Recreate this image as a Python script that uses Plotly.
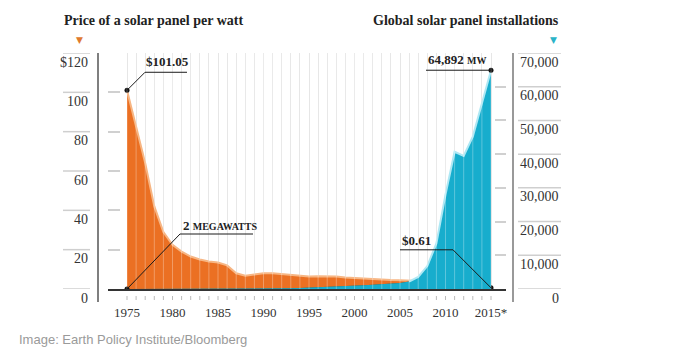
import plotly.graph_objects as go

# ---------------- data ----------------
years = list(range(1975, 2016))
price = [101.05, 82.0, 64.0, 42.0, 29.0, 22.5, 19.0, 16.5, 15.0, 14.0,
         13.5, 12.0, 8.0, 6.8, 7.3, 8.0, 8.0, 7.6, 7.2, 6.8,
         6.3, 6.5, 6.6, 6.4, 5.8, 5.5, 5.3, 5.0, 4.8, 4.6,
         4.5, 4.4, 4.1, 3.2, 2.3, 1.6, 1.2, 0.9, 0.75, 0.66, 0.61]
installs = [2, 3, 5, 8, 10, 15, 20, 25, 30, 40,
            50, 60, 70, 80, 90, 100, 120, 150, 200, 260,
            350, 450, 600, 700, 800, 950, 1100, 1250, 1400, 1550,
            1750, 2200, 3600, 6800, 13500, 28000, 40700, 39500, 45200, 55000, 64892]
x_label_years = [1975, 1980, 1985, 1990, 1995, 2000, 2005, 2010, 2015]
x_label_text = ["1975", "1980", "1985", "1990", "1995", "2000", "2005", "2010", "2015*"]
left_ticks = [0, 20, 40, 60, 80, 100, 120]
left_text = ["0", "20", "40", "60", "80", "100", "$120"]
right_ticks = [0, 10000, 20000, 30000, 40000, 50000, 60000, 70000]
right_text = ["0", "10,000", "20,000", "30,000", "40,000", "50,000", "60,000", "70,000"]
PRICE_MAX = 120
INST_MAX = 70000

# ---------------- styling ----------------
W, H = 678, 351
ML, MR, MT, MB = 108, 172, 53, 62
PW, PH = W - ML - MR, H - MT - MB
def px(xp):
    return (xp - ML) / PW
def py(yp):
    return (H - MB - yp) / PH

ORANGE = "#EB7023"
ORANGE_EDGE = "#F7B684"
TEAL = "#17ADCD"
TEAL_EDGE = "#AEE8F4"
DARK = "#544E30"
SERIF = "Liberation Serif"
SANS = "Liberation Sans"

inst_scaled = [v * PRICE_MAX / INST_MAX for v in installs]
overlap = [min(a, b) for a, b in zip(price, inst_scaled)]

fig = go.Figure()
fig.add_trace(go.Scatter(x=years, y=price, mode="lines", fill="tozeroy",
                         fillcolor=ORANGE, line=dict(color=ORANGE_EDGE, width=2),
                         hoverinfo="skip", showlegend=False))
fig.add_trace(go.Scatter(x=years, y=installs, yaxis="y2", mode="lines", fill="tozeroy",
                         fillcolor=TEAL, line=dict(width=0), hoverinfo="skip", showlegend=False))
k = years.index(2006)
fig.add_trace(go.Scatter(x=years[k:], y=installs[k:], yaxis="y2", mode="lines",
                         line=dict(color=TEAL_EDGE, width=2), hoverinfo="skip", showlegend=False))
fig.add_trace(go.Scatter(x=years, y=overlap, mode="lines", fill="tozeroy",
                         fillcolor=DARK, line=dict(width=0), hoverinfo="skip", showlegend=False))
# endpoint dots
fig.add_trace(go.Scatter(x=[years[0], years[-1]], y=[price[0], price[-1]], mode="markers",
                         marker=dict(color="#111", size=5), hoverinfo="skip", showlegend=False))
fig.add_trace(go.Scatter(x=[years[0], years[-1]], y=[installs[0], installs[-1]], yaxis="y2",
                         mode="markers", marker=dict(color="#111", size=5),
                         hoverinfo="skip", showlegend=False))

x_ticktext = [x_label_text[x_label_years.index(y)] if y in x_label_years else "" for y in years]

fig.update_layout(
    width=W, height=H, margin=dict(l=ML, r=MR, t=MT, b=MB),
    paper_bgcolor="white", plot_bgcolor="white",
    xaxis=dict(range=[1975 - 19 / 9.1, 2015 + 15 / 9.1], tickvals=years, ticktext=x_ticktext,
               showgrid=True, gridcolor="#e2e2e2", gridwidth=1, zeroline=False,
               showline=True, linecolor="#333", linewidth=2, ticks="",
               tickfont=dict(family=SERIF, size=13, color="#333"), ticklabelstandoff=10),
    yaxis=dict(range=[0, PRICE_MAX], tickvals=left_ticks, showticklabels=False,
               showgrid=False, zeroline=False, ticks="inside", ticklen=12,
               tickcolor="#d0d0d0", tickwidth=1.5, showline=False),
    yaxis2=dict(range=[0, INST_MAX], overlaying="y", side="right", tickvals=right_ticks,
                showticklabels=False, showgrid=False, zeroline=False, ticks="inside",
                ticklen=11, tickcolor="#d0d0d0", tickwidth=1.5, showline=False),
)

shapes = []
# year tick marks below baseline
for y in years:
    shapes.append(dict(type="line", xref="x", yref="paper", x0=y, x1=y,
                       y0=-7 / PH, y1=-11 / PH, line=dict(color="#bbbbbb", width=1)))
# light stripes over the filled areas
for y in years:
    shapes.append(dict(type="line", xref="x", yref="paper", x0=y, x1=y, y0=0, y1=1,
                       layer="above", line=dict(color="rgba(255,255,255,0.3)", width=1)))
# axis lines outside plot
shapes.append(dict(type="line", xref="paper", yref="paper", x0=px(98), x1=px(98),
                   y0=1, y1=py(302), line=dict(color="#555", width=1.5)))
shapes.append(dict(type="line", xref="paper", yref="paper", x0=px(513), x1=px(513),
                   y0=1, y1=py(302), line=dict(color="#777", width=1.5)))
# outer short gridlines
for v in left_ticks:
    shapes.append(dict(type="line", xref="paper", yref="y", x0=px(63), x1=px(90), y0=v, y1=v,
                       line=dict(color="#cfcfcf", width=1.5)))
for v in right_ticks:
    shapes.append(dict(type="line", xref="paper", yref="y2", x0=px(518), x1=px(561), y0=v, y1=v,
                       line=dict(color="#cfcfcf", width=1.5)))

def leader(xa, ya, yref, path):
    return dict(type="path", xref="x", yref=yref, xsizemode="pixel", ysizemode="pixel",
                xanchor=xa, yanchor=ya, path=path, layer="above",
                line=dict(color="#1a1a1a", width=1))

shapes.append(leader(years[0], price[0], "y", "M0,0 L18,18 L60,18"))
shapes.append(leader(years[0], 0, "y", "M0,0 L53,55 L126,55"))
shapes.append(leader(years[-1], installs[-1], "y2", "M0,0 L-65,0"))
shapes.append(leader(years[-1], price[-1], "y", "M0,0 L-38,38 L-91,38"))
fig.update_layout(shapes=shapes)

ann = []
for v, t in zip(left_ticks, left_text):
    ann.append(dict(xref="paper", yref="y", x=0, y=v, xshift=-18, yshift=-9, text=t,
                    xanchor="right", yanchor="middle", showarrow=False,
                    font=dict(family=SERIF, size=14, color="#333")))
for v, t in zip(right_ticks, right_text):
    ann.append(dict(xref="paper", yref="y2", x=1, y=v, xshift=55, yshift=-9, text=t,
                    xanchor="right", yanchor="middle", showarrow=False,
                    font=dict(family=SERIF, size=14, color="#333")))

bold = dict(family=SERIF, size=13, color="#222")
ann.append(dict(xref="x", yref="y", x=years[0], y=price[0], xshift=40, yshift=29,
                text=f"<b>${price[0]:.2f}</b>", showarrow=False, font=bold))
ann.append(dict(xref="x", yref="y", x=years[0], y=0, xshift=54, yshift=64, xanchor="left",
                text=f"<b>{installs[0]} <span style='font-size:10px'>MEGAWATTS</span></b>",
                showarrow=False, font=bold))
ann.append(dict(xref="x", yref="y2", x=years[-1], y=installs[-1], xshift=-65, yshift=11,
                xanchor="left",
                text=f"<b>{installs[-1]:,} <span style='font-size:10px'>MW</span></b>",
                showarrow=False, font=bold))
ann.append(dict(xref="x", yref="y", x=years[-1], y=price[-1], xshift=-91, yshift=47,
                xanchor="left", text=f"<b>${price[-1]:.2f}</b>", showarrow=False, font=bold))

ann.append(dict(xref="paper", yref="paper", x=px(62), y=py(21), xanchor="left", yanchor="middle",
                text="<b>Price of a solar panel per watt</b>", showarrow=False,
                font=dict(family=SERIF, size=14, color="#222")))
ann.append(dict(xref="paper", yref="paper", x=px(561), y=py(21), xanchor="right", yanchor="middle",
                text="<b>Global solar panel installations</b>", showarrow=False,
                font=dict(family=SERIF, size=14, color="#222")))
ann.append(dict(xref="paper", yref="paper", x=px(79), y=py(40), xanchor="center", yanchor="middle",
                text="▼", showarrow=False, font=dict(family="DejaVu Sans", size=9, color="#E07A2E")))
ann.append(dict(xref="paper", yref="paper", x=px(553), y=py(40), xanchor="center", yanchor="middle",
                text="▼", showarrow=False, font=dict(family="DejaVu Sans", size=9, color="#2BB3C8")))
ann.append(dict(xref="paper", yref="paper", x=px(17), y=py(339), xanchor="left", yanchor="middle",
                text="Image: Earth Policy Institute/Bloomberg", showarrow=False,
                font=dict(family=SANS, size=13, color="#9a9a9a")))
fig.update_layout(annotations=ann)

fig.write_html("out.html")
